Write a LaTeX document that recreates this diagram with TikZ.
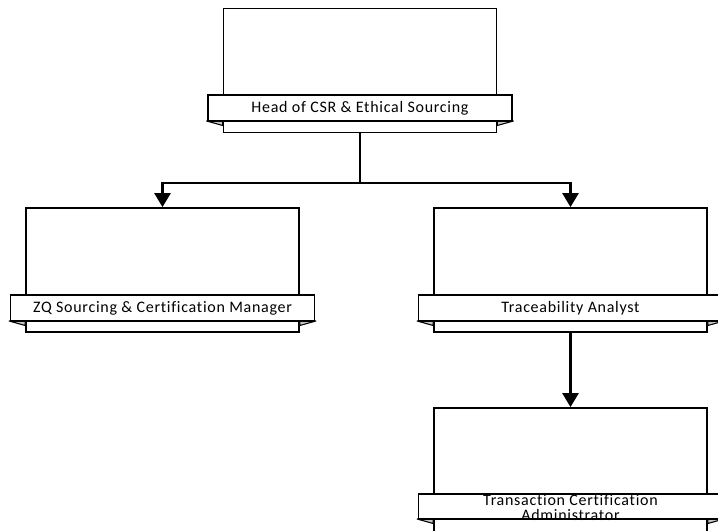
\documentclass[tikz,border=0pt]{standalone}
\usepackage{fontspec}
\setmainfont{Carlito}
\newfontfamily\lblfont[LetterSpace=4.5, Ligatures=NoCommon]{Carlito}
\usetikzlibrary{arrows.meta}
\tikzset{
  box/.style={draw=black, fill=white, line width=1.3pt, inner sep=0pt,
    minimum width=204.75pt, minimum height=93pt},
  lbl/.style={font=\lblfont\fontsize{12}{11.5}\selectfont},
  banner/.style={draw=black, fill=white, line width=1.3pt, inner sep=0pt,
    minimum width=228pt, minimum height=19.5pt, lbl, align=center},
  fold/.style={draw=black, fill=gray!45, line width=0.8pt, line join=round},
  conn/.style={draw=black, line width=1.8pt},
  arr/.style={conn, -{Triangle[length=10.5pt, width=12pt]}}
}
\begin{document}
\begin{tikzpicture}[x=0.75pt, y=-0.75pt]
\clip (0,0) rectangle (718,531);
\fill[white] (0,0) rectangle (718,531);
% boxes
\node[box] (top) at (360,70.5) {};
\node[box] (lbox) at (162.5,270) {};
\node[box] (rbox) at (570.5,270) {};
\node[box] (bbox) at (570.5,470) {};
% folds
\foreach \b/\y in {top/121, lbox/321, rbox/321, bbox/519}{
  \coordinate (fl) at (\b.west |- 0,\y);
  \coordinate (fr) at (\b.east |- 0,\y);
  \draw[fold] (fl) ++(-16,0) -- (fl) -- ++(0,4.5) -- cycle;
  \draw[fold] (fr) ++(16,0) -- (fr) -- ++(0,4.5) -- cycle;
}
% banners
\node[banner] (topb) at (360,108) {Head of CSR \& Ethical Sourcing};
\node[banner] (lboxb) at (162.5,308) {ZQ Sourcing \& Certification Manager};
\node[banner] (rboxb) at (570.5,308) {Traceability Analyst};
\node[banner, minimum height=18.75pt] (bboxb) at (570.5,506.5) {};
\node[lbl, align=center, inner sep=0pt] (btext) at (570.5,507.5) {Transaction Certification\\Administrator};
% connectors
\coordinate (j) at (360,183);
\draw[conn] (top.south) -- (j);
\draw[arr] (j) -| (lbox.north);
\draw[arr] (j) -| (rbox.north);
\draw[arr] (rbox.south) -- (bbox.north);
\end{tikzpicture}
\end{document}
